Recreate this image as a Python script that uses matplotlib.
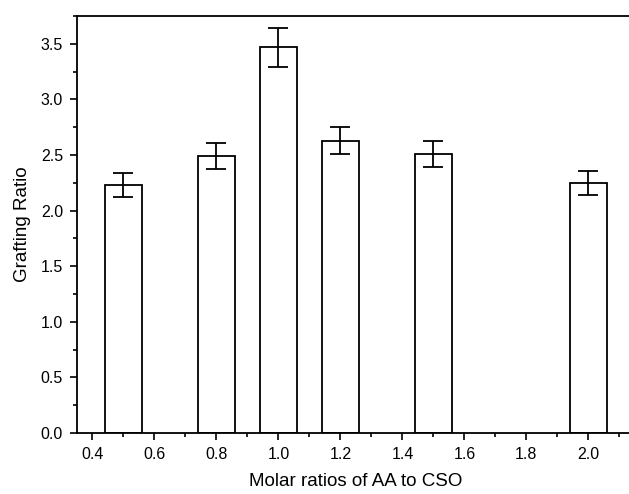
import matplotlib.pyplot as plt
from matplotlib.ticker import MultipleLocator

plt.rcParams['font.family'] = ['Liberation Sans', 'DejaVu Sans']

# Grafting ratio vs molar ratio of AA to CSO
ratios = [0.5, 0.8, 1.0, 1.2, 1.5, 2.0]
grafting = [2.23, 2.49, 3.47, 2.63, 2.51, 2.25]
errors = [0.11, 0.12, 0.175, 0.125, 0.12, 0.11]

fig = plt.figure(figsize=(6.29, 4.94), dpi=100)
# axes run slightly past the right edge, as in the original crop
ax = fig.add_axes([0.1224, 0.1235, 0.887, 0.8441])

ax.bar(ratios, grafting, width=0.12, color="white", edgecolor="black", linewidth=1.3)
ax.errorbar(ratios, grafting, yerr=errors, fmt="none", ecolor="black",
            elinewidth=1.3, capsize=7, capthick=1.3)

ax.set_xlim(0.35, 2.15)
ax.set_ylim(0, 3.75)
ax.xaxis.set_major_locator(MultipleLocator(0.2))
ax.xaxis.set_minor_locator(MultipleLocator(0.1))
ax.yaxis.set_major_locator(MultipleLocator(0.5))
ax.yaxis.set_minor_locator(MultipleLocator(0.25))
ax.tick_params(which="both", direction="out", width=1.2, labelsize=11.5, pad=5)
ax.tick_params(which="major", length=5)
ax.tick_params(which="minor", length=3)
ax.tick_params(axis="x", top=False)
ax.tick_params(axis="y", right=False)
for s in ax.spines.values():
    s.set_linewidth(1.3)

ax.set_xlabel("Molar ratios of AA to CSO", fontsize=13.5, labelpad=8)
ax.set_ylabel("Grafting Ratio", fontsize=13.5, labelpad=7)

plt.savefig("out.png", dpi=100)
